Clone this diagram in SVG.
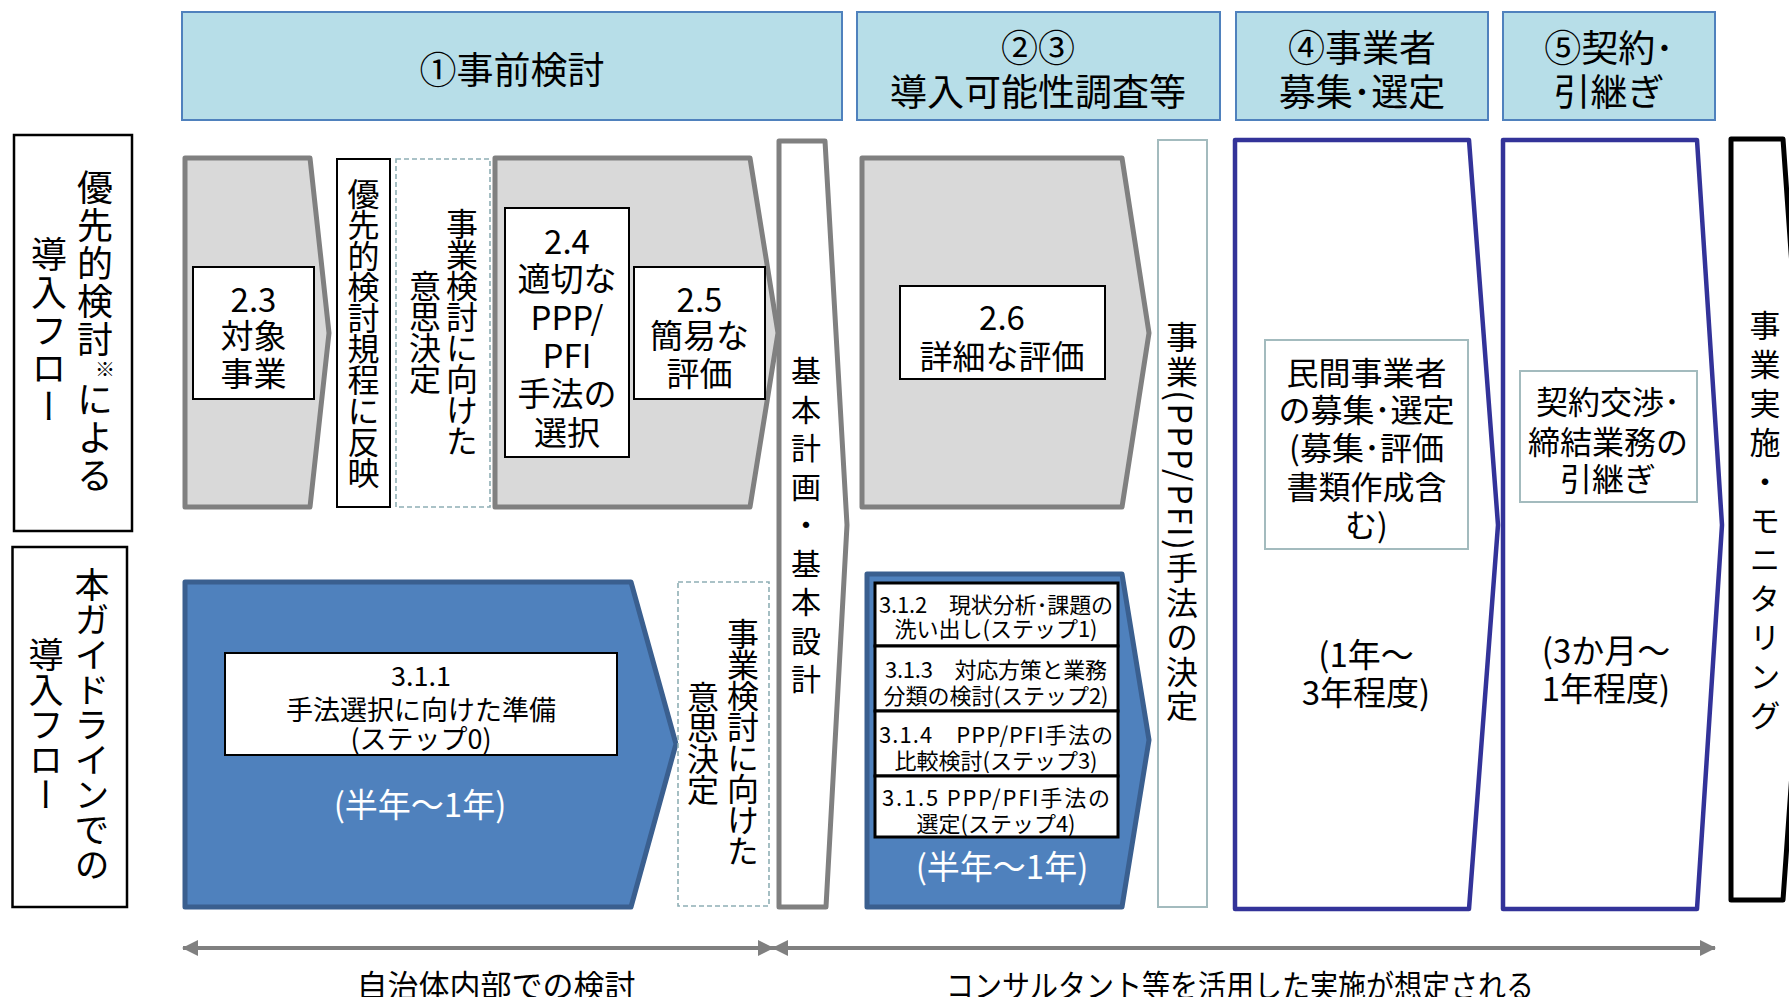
<svg xmlns="http://www.w3.org/2000/svg" width="1789" height="997" viewBox="0 0 1789 997">
<defs>
<style>
text{font-family:"Noto Sans CJK JP","Noto Sans CJK SC",sans-serif;fill:#000}
.hdr rect{fill:#B7DEE8;stroke:#4F81BD;stroke-width:2}
.hdr text{font-size:37px;text-anchor:middle;dominant-baseline:central}
.side{fill:#fff;stroke:#000;stroke-width:2.5}
.vt{writing-mode:vertical-rl;text-anchor:middle}
.gray{fill:#D9D9D9;stroke:#808080;stroke-width:5;stroke-linejoin:round}
.blue{fill:#4F81BD;stroke:#3A5F8F;stroke-width:5;stroke-linejoin:round}
.wbox{fill:#fff;stroke:#000;stroke-width:2}
.sbox{fill:#fff;stroke:#000;stroke-width:3}
.tbox{fill:#fff;stroke:#A3BBBE;stroke-width:2}
.dash{fill:#fff;stroke:#8FAFB5;stroke-width:1.6;stroke-dasharray:5 3}
.ct{text-anchor:middle;dominant-baseline:central}
.navy{fill:#fff;stroke:#333399;stroke-width:4.5;stroke-linejoin:round}
.grayw{fill:#fff;stroke:#808080;stroke-width:5;stroke-linejoin:round}
.blk{fill:#fff;stroke:#000;stroke-width:5;stroke-linejoin:round}
.f33{font-size:33px}
.f32{font-size:32px}
.f27{font-size:27px}
.f22{font-size:22px}
.wt{fill:#fff}
.arrow{stroke:#808080;stroke-width:4;fill:none;marker-start:url(#ah);marker-end:url(#ah)}
</style>
<marker id="ah" viewBox="0 0 16 16" markerUnits="userSpaceOnUse" markerWidth="16" markerHeight="16" refX="15" refY="8" orient="auto-start-reverse">
<path d="M0,0 L16,8 L0,16 z" fill="#808080"/>
</marker>
</defs>

<g id="header-1" class="hdr"><rect x="182" y="12" width="660" height="108"/><text x="512" y="68">①事前検討</text></g>
<g id="header-23" class="hdr"><rect x="857" y="12" width="363" height="108"/><text x="1038" y="46">②③</text><text x="1038" y="90">導入可能性調査等</text></g>
<g id="header-4" class="hdr"><rect x="1236" y="12" width="252" height="108"/><text x="1362" y="46">④事業者</text><text x="1362" y="90">募集･選定</text></g>
<g id="header-5" class="hdr"><rect x="1503" y="12" width="212" height="108"/><text x="1609" y="46">⑤契約･</text><text x="1609" y="90">引継ぎ</text></g>

<g id="label-row1"><rect class="side" x="14" y="135" width="118" height="396"/>
<text class="vt" x="95" y="332" font-size="36" letter-spacing="2">優先的検討<tspan font-size="20" dx="10">※</tspan><tspan dx="-10">による</tspan></text>
<text class="vt" x="49" y="331" font-size="36" letter-spacing="2">導入フロー</text></g>

<g id="label-row2"><rect class="side" x="12.5" y="547" width="114.5" height="360"/>
<text class="vt" x="92" y="725" font-size="35">本ガイドラインでの</text>
<text class="vt" x="46" y="725" font-size="35">導入フロー</text></g>

<g id="step-2-3"><polygon class="gray" points="185,158 310,158 329,333 310,507 185,507"/>
<rect class="wbox" x="193" y="267" width="121" height="132"/>
<text class="ct f33" x="253.5" y="298">2.3</text><text class="ct f33" x="253.5" y="334">対象</text><text class="ct f33" x="253.5" y="372">事業</text></g>

<g id="rule-reflect"><rect class="wbox" x="337" y="159" width="53" height="348"/>
<text class="vt" x="363.5" y="333" font-size="32" letter-spacing="-1">優先的検討規程に反映</text></g>

<g id="decision-1"><rect class="dash" x="396" y="159" width="94" height="348"/>
<text class="vt" x="462" y="332" font-size="32" letter-spacing="-1">事業検討に向けた</text>
<text class="vt" x="425" y="332" font-size="32" letter-spacing="-1">意思決定</text></g>

<g id="step-2-4-2-5"><polygon class="gray" points="495,158 750,158 778,333 750,507 495,507"/>
<rect class="wbox" x="505" y="208" width="124" height="249"/>
<text class="ct f33" x="567" y="240">2.4</text><text class="ct f33" x="567" y="277">適切な</text><text class="ct f33" x="567" y="316">PPP/</text><text class="ct f33" x="567" y="354">PFI</text><text class="ct f33" x="567" y="392">手法の</text><text class="ct f33" x="567" y="431">選択</text>
<rect class="wbox" x="634" y="267" width="131" height="132"/>
<text class="ct f33" x="699.5" y="298">2.5</text><text class="ct f33" x="699.5" y="334">簡易な</text><text class="ct f33" x="699.5" y="372">評価</text></g>

<g id="basic-plan"><polygon class="grayw" points="779,141 825,141 847,525 826,907 779,907"/>
<text class="vt" x="806" y="529" font-size="30" letter-spacing="8.5">基本計画・基本設計</text></g>

<g id="step-2-6"><polygon class="gray" points="862,158 1122,158 1149,333 1122,507 862,507"/>
<rect class="wbox" x="900" y="286" width="205" height="93"/>
<text class="ct f33" x="1002" y="316">2.6</text><text class="ct f33" x="1002" y="355">詳細な評価</text></g>

<g id="method-decision"><rect class="tbox" x="1158" y="140" width="49" height="767"/>
<text class="vt" x="1182" y="523" font-size="32" letter-spacing="2.5">事業(PPP/PFI)手法の決定</text></g>

<g id="stage-4"><polygon class="navy" points="1235,140 1469,140 1498,525 1469,909 1235,909"/>
<rect class="tbox" x="1265" y="340" width="203" height="209"/>
<text class="ct f32" x="1366.5" y="371">民間事業者</text><text class="ct f32" x="1366.5" y="408">の募集･選定</text><text class="ct f32" x="1366.5" y="446">(募集･評価</text><text class="ct f32" x="1366.5" y="485">書類作成含</text><text class="ct f32" x="1366.5" y="523">む)</text>
<text class="ct f33" x="1366" y="653">(1年～</text><text class="ct f33" x="1366" y="691">3年程度)</text></g>

<g id="stage-5"><polygon class="navy" points="1503,140 1697,140 1722,525 1697,909 1503,909"/>
<rect class="tbox" x="1520" y="371" width="177" height="131"/>
<text class="ct f32" x="1608" y="400">契約交渉･</text><text class="ct f32" x="1608" y="440">締結業務の</text><text class="ct f32" x="1608" y="477">引継ぎ</text>
<text class="ct f33" x="1606" y="649">(3か月～</text><text class="ct f33" x="1606" y="687">1年程度)</text></g>

<g id="stage-6"><polygon class="blk" points="1731,139 1783,139 1810,520 1783,900 1731,900"/>
<text class="vt" x="1765" y="524" font-size="31" letter-spacing="8">事業実施・モニタリング</text></g>

<g id="step-3-1-1"><polygon class="blue" points="185,582 631,582 676,744 631,907 185,907"/>
<rect class="wbox" x="225" y="653" width="392" height="102"/>
<text class="ct f27" x="421" y="674">3.1.1</text><text class="ct f27" x="421" y="708">手法選択に向けた準備</text><text class="ct f27" x="421" y="737">(ステップ0)</text>
<text class="ct f33 wt" x="420" y="803">(半年～1年)</text></g>

<g id="decision-2"><rect class="dash" x="678" y="582" width="91" height="324"/>
<text class="vt" x="743" y="742" font-size="32" letter-spacing="-1">事業検討に向けた</text>
<text class="vt" x="703" y="743" font-size="32" letter-spacing="-1">意思決定</text></g>

<g id="step-3-1-2-5"><polygon class="blue" points="867,574 1122,574 1149,740 1122,907 867,907"/>
<rect class="sbox" x="875" y="583" width="243" height="63"/>
<rect class="sbox" x="875" y="646" width="243" height="65"/>
<rect class="sbox" x="875" y="711" width="243" height="65"/>
<rect class="sbox" x="875" y="776" width="243" height="61"/>
<text class="ct f22" x="996" y="603" textLength="234">3.1.2　現状分析･課題の</text><text class="ct f22" x="996" y="627">洗い出し(ステップ1)</text>
<text class="ct f22" x="996" y="668" textLength="222">3.1.3　対応方策と業務</text><text class="ct f22" x="996" y="694">分類の検討(ステップ2)</text>
<text class="ct f22" x="996" y="733" textLength="234">3.1.4　PPP/PFI手法の</text><text class="ct f22" x="996" y="759">比較検討(ステップ3)</text>
<text class="ct f22" x="996" y="796" textLength="228">3.1.5 PPP/PFI手法の</text><text class="ct f22" x="996" y="822">選定(ステップ4)</text>
<text class="ct f33 wt" x="1002" y="865">(半年～1年)</text></g>

<g id="connectors">
<line class="arrow" x1="183" y1="948" x2="773" y2="948"/>
<line class="arrow" x1="773" y1="948" x2="1715" y2="948"/>
</g>

<g id="bottom-labels">
<text class="ct" x="496" y="983" font-size="31">自治体内部での検討</text>
<text class="ct" x="1240" y="983" font-size="31" textLength="588" lengthAdjust="spacingAndGlyphs">コンサルタント等を活用した実施が想定される</text>
</g>
</svg>
